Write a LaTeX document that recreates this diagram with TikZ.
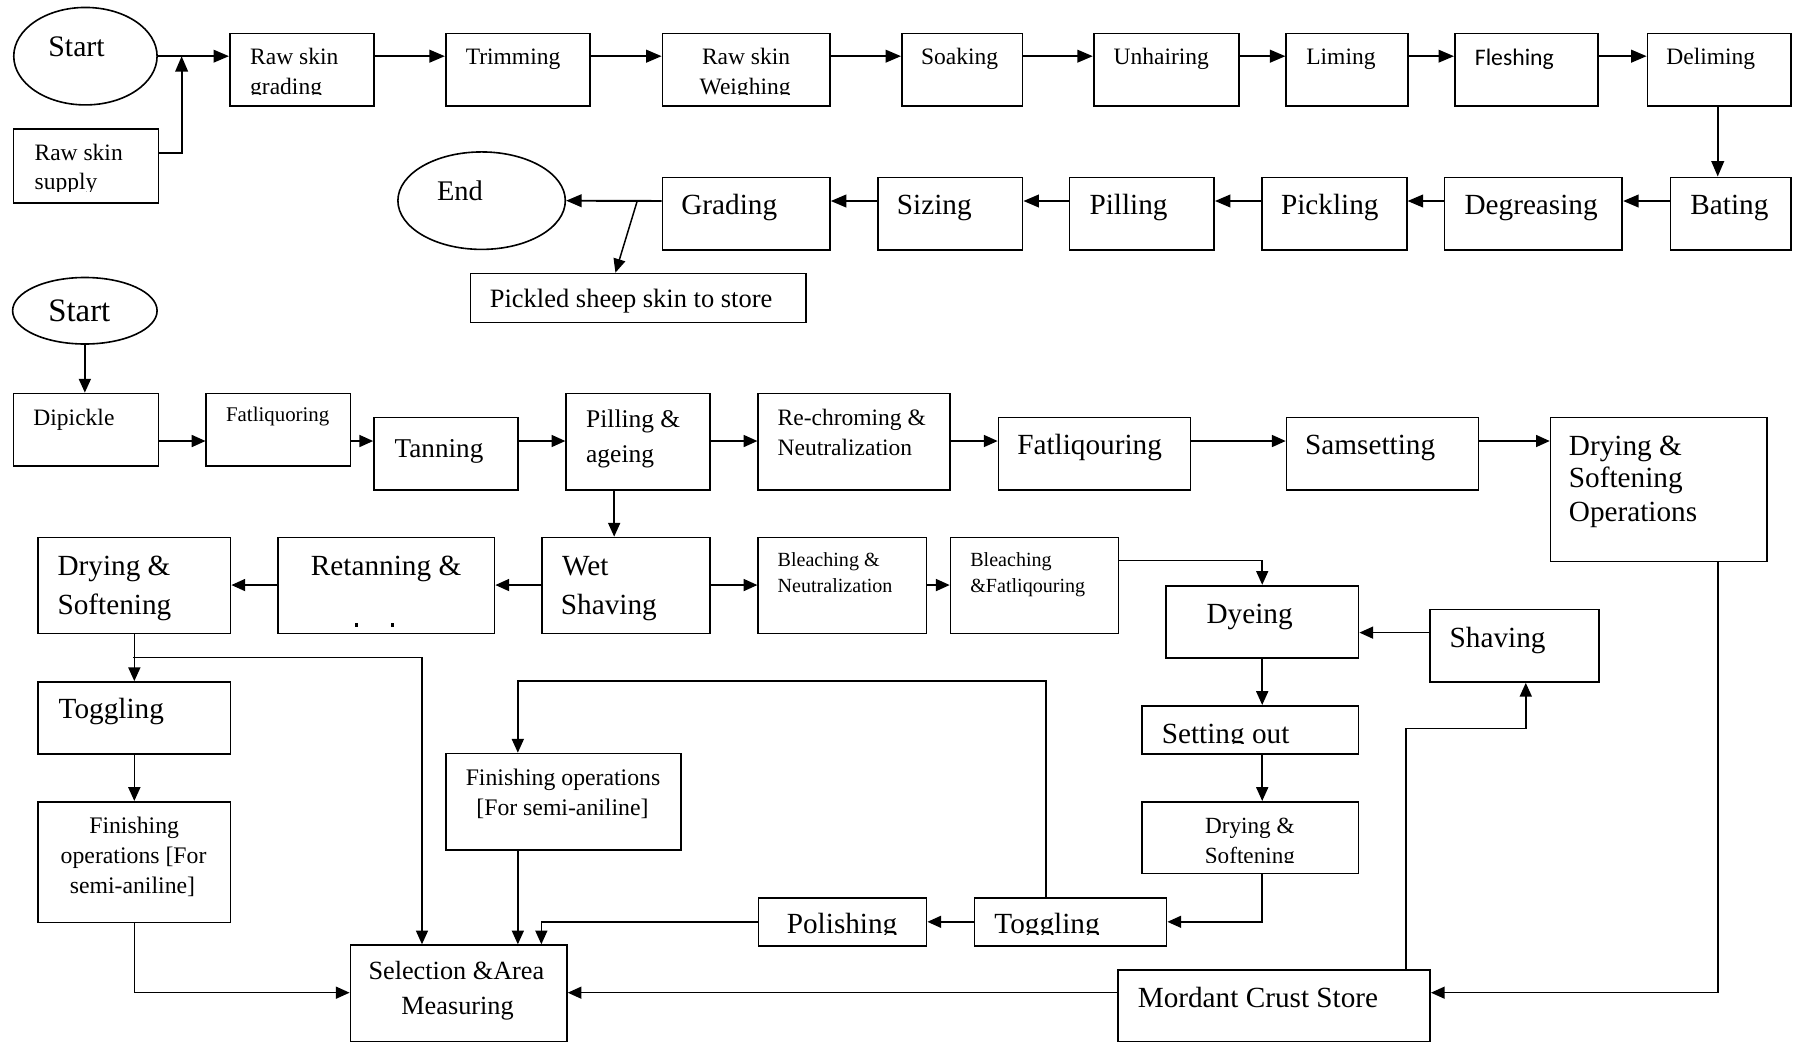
\documentclass[tikz,border=0pt]{standalone}
\usepackage{fontspec}
\setmainfont{Liberation Serif}
\newfontfamily\sansfl{Carlito}
\usetikzlibrary{arrows.meta,shapes.geometric}

\tikzset{
  pbox/.style={draw, line width=1.5pt, rectangle, inner sep=0pt, anchor=north west},
  oval/.style={draw, line width=1.4pt, ellipse, inner sep=0pt},
  lnk/.style={line width=1.3pt, -{Triangle[length=12pt,width=10.5pt]}},
  lnkT/.style={line width=1.7pt, -{Triangle[length=13.5pt,width=11pt]}},
  tx/.style={inner sep=0pt, anchor=base west},
  txc/.style={inner sep=0pt, anchor=base},
  sz/.style={font=\fontsize{#1}{#1}\selectfont},
}

% process box from its top-left and bottom-right corners
\newcommand\pb[5]{\node[pbox, minimum width={(#4-#2)*1pt}, minimum height={(#5-#3)*1pt}] (#1) at (#2,#3) {};}
% text that is cut off by the inner margin at the foot of a box
\newcommand\clipin[2]{\begin{scope}\clip (#1.north west) rectangle ([yshift=10.5pt]#1.south east); #2\end{scope}}

\begin{document}
\begin{tikzpicture}[x=1pt,y=-1pt]
\useasboundingbox (0,0) rectangle (1568,909);

% ---------------- raw skin to pickled skin ----------------
\node[oval, minimum width=125pt, minimum height=85pt] (start1) at (74.5,49) {};
\node[tx, sz=26] (start1-t) at (42,49) {Start};
\pb{supply}{11}{112}{137.5}{176}
\pb{rsg}{199.7}{28.5}{325.4}{91.6}
\pb{trim}{388}{28.5}{514}{91.6}
\pb{weigh}{577}{28.5}{723}{91.6}
\pb{soak}{785.8}{28.5}{891}{91.6}
\pb{unhair}{953}{28.5}{1080}{91.6}
\pb{lime}{1121}{28.5}{1227}{91.6}
\pb{flesh}{1268}{28.5}{1393}{91.6}
\pb{delime}{1436}{28.5}{1561}{91.6}

\clipin{supply}{\node[tx, sz=20.5] (supply-a) at (30,139.6) {Raw skin};
  \node[tx, sz=20.5] (supply-b) at (30,165.6) {supply};}
\clipin{rsg}{\node[tx, sz=20.5] (rsg-a) at (218,56) {Raw skin};
  \node[tx, sz=20.5] (rsg-b) at (218,82.5) {grading};}
\node[tx, sz=20.5] (trim-t) at (406,56) {Trimming};
\clipin{weigh}{\node[tx, sz=20.5] (weigh-a) at (612,56) {Raw skin};
  \node[tx, sz=20.5] (weigh-b) at (610,82.5) {Weighing};}
\node[tx, sz=20.5] (soak-t) at (803,56) {Soaking};
\node[tx, sz=20.5] (unhair-t) at (971,56) {Unhairing};
\node[tx, sz=20.5] (lime-t) at (1139,56) {Liming};
\node[tx, font=\sansfl\fontsize{20.7}{20.7}\selectfont] (flesh-t) at (1286,57) {Fleshing};
\node[tx, sz=20.5] (delime-t) at (1453,56) {Deliming};

\pb{bating}{1456}{154}{1561}{217}
\pb{degr}{1259}{154}{1414}{217}
\pb{pickl}{1100}{154}{1226}{217}
\pb{pill}{932}{154}{1058}{217}
\pb{sizing}{765}{154}{891}{217}
\pb{grading}{577}{154}{723}{217}
\node[oval, minimum width=146pt, minimum height=85pt] (endn) at (420,175) {};
\pb{store}{409.5}{237.8}{702.4}{280.5}

\node[tx, sz=25.5] (bating-t) at (1474,187.4) {Bating};
\node[tx, sz=25.5] (degr-t) at (1277,187.4) {Degreasing};
\node[tx, sz=25.5] (pickl-t) at (1117,187.4) {Pickling};
\node[tx, sz=25.5] (pill-t) at (950,187.4) {Pilling};
\node[tx, sz=25.5] (sizing-t) at (782,187.4) {Sizing};
\node[tx, sz=25.5] (grading-t) at (594,187.4) {Grading};
\node[tx, sz=24.8] (endn-t) at (381,175) {End};
\node[tx, sz=23.1] (store-t) at (427,268.6) {Pickled sheep skin to store};

% connectors
\coordinate (j1) at (158.4,49);
\draw[lnkT] (start1.east) -- (start1.east -| rsg.west);
\draw[lnkT] (supply.east |- 0,133.7) -| (j1);
\foreach \a/\b in {rsg/trim, trim/weigh, weigh/soak, soak/unhair, unhair/lime, lime/flesh, flesh/delime}
  \draw[lnkT] (\a.east |- 0,49) -- (\b.west |- 0,49);
\draw[lnkT] (delime.south -| 1498,0) -- (bating.north -| 1498,0);
\foreach \a/\b in {bating/degr, degr/pickl, pickl/pill, pill/sizing, sizing/grading}
  \draw[lnkT] (\a.west |- 0,175.3) -- (\b.east |- 0,175.3);
\draw[lnkT] (grading.west |- 0,175.3) -- (endn.east);
\coordinate (j2) at (555.7,175.3);
\draw[lnk] (j2) -- (store.north -| 536.7,0);

% ---------------- crust and finishing ----------------
\node[oval, minimum width=126pt, minimum height=58pt] (start2) at (74,271) {};
\node[tx, sz=28.6] (start2-t) at (42,280) {Start};

\pb{dip}{11}{342.4}{137.5}{405.5}
\pb{fatl}{179.2}{342.4}{304.9}{405.5}
\pb{tan}{325.4}{363.4}{451}{426.7}
\pb{pilla}{493}{342.4}{618.7}{426.7}
\pb{rechr}{660.5}{342.4}{828}{426.7}
\pb{fatlq}{870}{363.4}{1037.5}{426.7}
\pb{sams}{1121.2}{363.4}{1288.7}{426.7}
\pb{dryops}{1351.5}{363.4}{1540}{489}
\pb{dryl}{32.5}{468}{200.3}{551.7}
\pb{retan}{241.8}{468}{430.5}{551.7}
\pb{wet}{472}{468}{618.7}{551.7}
\pb{bln}{660.5}{468}{807.3}{551.7}
\pb{blf}{828.2}{468}{974.7}{551.7}
\pb{dye}{1016}{510}{1184}{573.2}
\pb{shave}{1246}{530.8}{1393.4}{594}
\pb{setout}{995}{614.8}{1184}{657}
\pb{drys}{995}{698.5}{1184}{761}
\pb{togr}{849}{782.3}{1016.6}{824}
\pb{polish}{660.8}{782.3}{807.3}{824}
\pb{finm}{388.5}{656.4}{593.3}{740.4}
\pb{sel}{304.9}{823.5}{493.6}{907.6}
\pb{mord}{974}{845}{1246.4}{907.6}
\pb{togl}{32.5}{594}{200.3}{657}
\pb{finl}{32.5}{698.5}{200.3}{803.8}

\node[tx, sz=20.5] (dip-t) at (29,371) {Dipickle};
\node[tx, sz=18.2] (fatl-t) at (197,368) {Fatliquoring};
\node[tx, sz=23.7] (tan-t) at (344,399) {Tanning};
\node[tx, sz=22.2] (pilla-a) at (511,373) {Pilling \&};
\node[tx, sz=22.2] (pilla-b) at (511,403) {ageing};
\node[tx, sz=20.5] (rechr-a) at (678,371) {Re-chroming \&};
\node[tx, sz=20.5] (rechr-b) at (678,397) {Neutralization};
\node[tx, sz=25.5] (fatlq-t) at (887,396.5) {Fatliqouring};
\node[tx, sz=25.5] (sams-t) at (1138,396.5) {Samsetting};
\node[tx, sz=25.5] (dryops-a) at (1368,397.5) {Drying \&};
\node[tx, sz=25.5] (dryops-b) at (1368,425.5) {Softening};
\node[tx, sz=25.5] (dryops-c) at (1368,454.5) {Operations};
\node[tx, sz=25.5] (dryl-a) at (50,501.5) {Drying \&};
\node[tx, sz=25.5] (dryl-b) at (50,535.5) {Softening};
\node[tx, sz=25.5] (retan-t) at (271,501.5) {Retanning \&};
\fill (310,543) rectangle (312.5,546.5);
\fill (341,543) rectangle (343.5,546.5);
\node[tx, sz=25.5] (wet-a) at (490,501.5) {Wet};
\node[tx, sz=25.5] (wet-b) at (489,535.5) {Shaving};
\node[tx, sz=17.5] (bln-a) at (678,494) {Bleaching \&};
\node[tx, sz=17.5] (bln-b) at (678,517) {Neutralization};
\node[tx, sz=17.5] (blf-a) at (846,494) {Bleaching};
\node[tx, sz=17.5] (blf-b) at (846,517) {\&Fatliqouring};
\node[tx, sz=25.5] (dye-t) at (1052,543.5) {Dyeing};
\node[tx, sz=25.5] (shave-t) at (1264,564.5) {Shaving};
\clipin{setout}{\node[tx, sz=25.5] (setout-t) at (1013,648.5) {Setting out};}
\clipin{drys}{\node[txc, sz=20.2] (drys-a) at (1090,727) {Drying \&};
  \node[txc, sz=20.2] (drys-b) at (1090,753) {Softening};}
\clipin{togr}{\node[tx, sz=25.5] (togr-t) at (867,814.5) {Toggling};}
\clipin{polish}{\node[tx, sz=25.5] (polish-t) at (686,814.5) {Polishing};}
\node[txc, sz=20.7] (finm-a) at (491,685) {Finishing operations};
\node[txc, sz=20.7] (finm-b) at (490.5,711) {[For semi-aniline]};
\node[txc, sz=22.9] (sel-a) at (398,854.5) {Selection \&Area};
\node[txc, sz=22.9] (sel-b) at (399,884.5) {Measuring};
\node[tx, sz=25.5] (mord-t) at (992,878.5) {Mordant Crust Store};
\node[tx, sz=25.5] (togl-t) at (51,626.5) {Toggling};
\node[txc, sz=20.7] (finl-a) at (117,727) {Finishing};
\node[txc, sz=20.7] (finl-b) at (116.5,753) {operations [For};
\node[txc, sz=20.7] (finl-c) at (115.5,779) {semi-aniline]};

% connectors
\draw[lnk] (start2.south) -- (start2.south |- dip.north);
\foreach \a/\b in {dip/fatl, fatl/tan, tan/pilla, pilla/rechr, rechr/fatlq, fatlq/sams, sams/dryops}
  \draw[lnk] (\a.east |- 0,384.6) -- (\b.west |- 0,384.6);
\draw[lnk] (pilla.south -| 535.6,0) -- (wet.north -| 535.6,0);
\foreach \a/\b in {wet/retan, retan/dryl}
  \draw[lnk] (\a.west |- 0,510.2) -- (\b.east |- 0,510.2);
\foreach \a/\b in {wet/bln, bln/blf}
  \draw[lnk] (\a.east |- 0,510.2) -- (\b.west |- 0,510.2);
\draw[lnk] (blf.east |- 0,489) -| (dye.north);
\draw[lnk] (shave.west |- 0,551.7) -- (dye.east |- 0,551.7);
\draw[lnk] (dye.south) -- (dye.south |- setout.north);
\draw[lnk] (setout.south -| dye.south) -- (drys.north -| dye.south);
\draw[lnk] (drys.south -| dye.south) |- (togr.east);
\draw[lnk] (togr.west) -- (polish.east);
\draw[lnk] (polish.west) -| (sel.north -| 472.1,0);
\coordinate (j3) at (912,594);
\coordinate (j4) at (451.6,594);
\draw[lnk] (togr.north -| j3) -- (j3) -- (j4) -- (finm.north -| j4);
\draw[lnk] (finm.south -| j4) -- (sel.north -| j4);
\draw[lnk] (dryl.south) -- (togl.north);
\coordinate (j5) at (116.4,573.5);
\coordinate (j6) at (368,573.5);
\draw[lnk] (j5) -- (j6) -- (sel.north -| j6);
\draw[lnk] (togl.south) -- (finl.north);
\draw[lnk] (finl.south) |- (sel.west |- 0,865.7);
\draw[lnk] (mord.west |- 0,865.7) -- (sel.east |- 0,865.7);
\draw[lnk] (dryops.south -| 1498,0) |- (mord.east |- 0,865.7);
\coordinate (j7) at (1226,635.5);
\coordinate (j8) at (1330.6,635.5);
\draw[lnk] (mord.north -| j7) -- (j7) -- (j8) -- (shave.south -| j8);
\end{tikzpicture}
\end{document}
